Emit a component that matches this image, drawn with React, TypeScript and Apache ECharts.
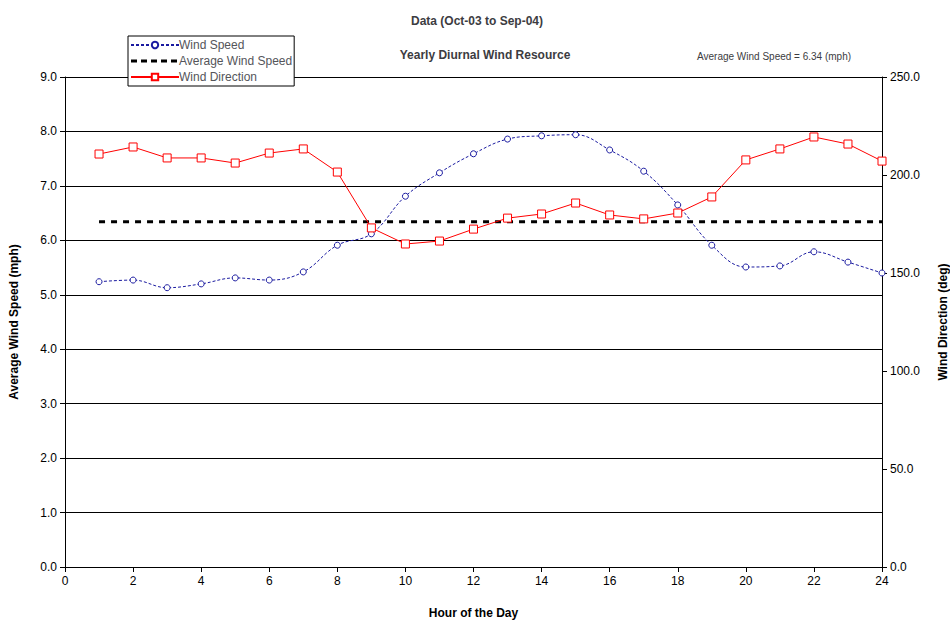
import React, { useEffect, useRef } from "react";
import * as echarts from "echarts";

const hours = [1,2,3,4,5,6,7,8,9,10,11,12,13,14,15,16,17,18,19,20,21,22,23,24];
const windSpeed = [5.24,5.27,5.13,5.2,5.31,5.27,5.42,5.91,6.12,6.81,7.24,7.59,7.86,7.92,7.94,7.66,7.27,6.65,5.91,5.51,5.53,5.79,5.6,5.4];
const windDir = [210.7,214.3,208.7,208.7,206.1,211.2,213.3,201.5,173,164.8,166.3,172.4,178,180.1,185.7,179.6,177.6,180.6,188.8,207.7,213.3,219.4,215.8,207.1];
const avgSpeed = 6.34;

const dashIcon = "path://M0,0h0.1v0.1h-0.1z M0,2.5h6v3h-6z M10,2.5h6v3h-6z M20,2.5h6v3h-6z M30,2.5h6v3h-6z M40,2.5h6v3h-6z M47.9,7.9h0.1v0.1h-0.1z";

export default function App() {
  const ref = useRef<HTMLDivElement>(null);
  useEffect(() => {
    const chart = echarts.init(ref.current!, null, { renderer: "svg" });
    const font = "Liberation Sans, Arial, sans-serif";
    chart.setOption({
      animation: false,
      textStyle: { fontFamily: font, color: "#000" },
      title: [
        { text: "Data (Oct-03 to Sep-04)", left: 472, top: 10, textAlign: "center", textStyle: { fontSize: 12, fontWeight: "bold", fontFamily: font } },
        { text: "Yearly Diurnal Wind Resource", left: 480, top: 44, textAlign: "center", textStyle: { fontSize: 12, fontWeight: "bold", fontFamily: font } },
        { text: "Average Wind Speed = 6.34 (mph)", left: 692, top: 46, textStyle: { fontSize: 10, fontWeight: "normal", fontFamily: font } },
      ],
      legend: {
        orient: "vertical", left: 128, top: 36, itemGap: 4, padding: [3, 2, 3, 2],
        borderColor: "#000", borderWidth: 1, borderRadius: 0, backgroundColor: "#fff",
        itemWidth: 48, itemHeight: 8, textStyle: { fontSize: 12, fontFamily: font, padding: [0, 0, 0, -5] },
        data: ["Wind Speed", { name: "Average Wind Speed", icon: dashIcon, itemStyle: { color: "#000", borderWidth: 0 } }, "Wind Direction"],
      },
      grid: { left: 65, right: 68, top: 77, bottom: 55, outerBoundsMode: "none", containLabel: false },
      xAxis: {
        type: "value", min: 0, max: 24, interval: 2,
        name: "Hour of the Day", nameLocation: "middle", nameGap: 40,
        nameTextStyle: { fontSize: 12, fontWeight: "bold", fontFamily: font },
        axisLine: { lineStyle: { color: "#000" } }, axisTick: { show: true, lineStyle: { color: "#000" } },
        axisLabel: { color: "#000", fontSize: 12 }, splitLine: { show: false },
      },
      yAxis: [
        {
          type: "value", min: 0, max: 9, interval: 1,
          name: "Average Wind Speed (mph)", nameLocation: "middle", nameGap: 45, nameRotate: 90,
          nameTextStyle: { fontSize: 12, fontWeight: "bold", fontFamily: font },
          axisLine: { show: true, lineStyle: { color: "#000" } }, axisTick: { show: true, lineStyle: { color: "#000" } },
          axisLabel: { color: "#000", fontSize: 12, formatter: (v: number) => v.toFixed(1) },
          splitLine: { show: true, lineStyle: { color: "#000", width: 1 } },
        },
        {
          type: "value", min: 0, max: 250, interval: 50,
          name: "Wind Direction (deg)", nameLocation: "middle", nameGap: 55, nameRotate: 90,
          nameTextStyle: { fontSize: 12, fontWeight: "bold", fontFamily: font },
          axisLine: { show: true, lineStyle: { color: "#000" } }, axisTick: { show: true, lineStyle: { color: "#000" } },
          axisLabel: { color: "#000", fontSize: 12, formatter: (v: number) => v.toFixed(1) },
          splitLine: { show: false },
        },
      ],
      series: [
        {
          name: "Wind Speed", type: "line", yAxisIndex: 0, smooth: 0.4,
          data: hours.map((h, i) => [h, windSpeed[i]]),
          symbol: "circle", symbolSize: 6,
          itemStyle: { color: "#fff", borderColor: "#1a1aa0", borderWidth: 1 },
          lineStyle: { color: "#1a1aa0", width: 1, type: [3, 2] },
        },
        {
          name: "Average Wind Speed", type: "line", yAxisIndex: 0, symbol: "none",
          data: hours.map((h) => [h, avgSpeed]),
          itemStyle: { color: "#000" },
          lineStyle: { color: "#000", width: 3, type: [6, 6] },
        },
        {
          name: "Wind Direction", type: "line", yAxisIndex: 1,
          data: hours.map((h, i) => [h, windDir[i]]),
          symbol: "rect", symbolSize: 8,
          itemStyle: { color: "#fff", borderColor: "#ff0000", borderWidth: 1 },
          lineStyle: { color: "#ff0000", width: 1 },
        },
      ],
    });
    return () => chart.dispose();
  }, []);
  return <div ref={ref} style={{ position: "absolute", left: 0, top: 0, width: 950, height: 622 }} />;
}
